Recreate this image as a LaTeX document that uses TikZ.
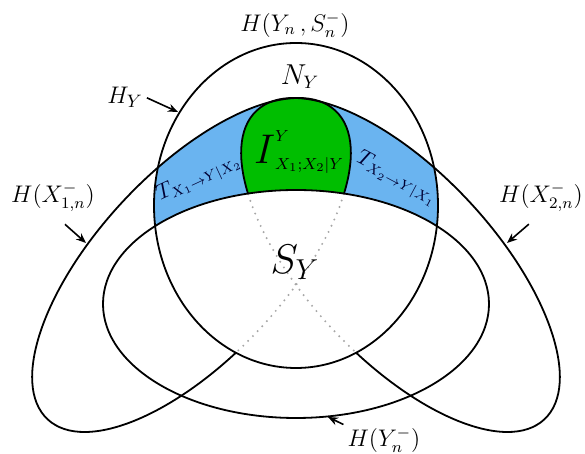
\documentclass[tikz,border=0pt]{standalone}
\usepackage{amsmath}
\usepackage{amssymb}
\usepackage{tikz}
\usetikzlibrary{arrows.meta}
\definecolor{bandblue}{RGB}{106,180,240}
\definecolor{capgreen}{RGB}{0,190,0}
% the four entropy sets
\newcommand{\setY}{(296,248.5) ellipse [x radius=142, y radius=162.5]}
\newcommand{\setYminus}{(296,150) ellipse [x radius=193, y radius=114]}
\newcommand{\setXone}{(191.5,189) ellipse [x radius=211, y radius=93.5, rotate=47]}
\newcommand{\setXtwo}{(400.5,189) ellipse [x radius=211, y radius=93.5, rotate=-47]}

\begin{document}
\begin{tikzpicture}[x=0.5pt, y=0.5pt,
		outline/.style={line width=0.9pt},
		hidden/.style={line width=1.1pt, gray!70, line cap=round, dash pattern=on 0pt off 3.4pt},
		pointer/.style={-{Stealth[length=5pt,width=4pt]}, line width=0.8pt},
		lbl/.style={inner sep=1pt, font=\fontsize{12}{14}\selectfont},
		bandlbl/.style={inner sep=0pt, font=\fontsize{10.5}{12}\selectfont, text=black!80!blue}]
		
		\useasboundingbox (0,0) rectangle (585,454);
		
		% Shaded regions inside H_Y
		\begin{scope}
			\clip \setY;
			\fill[bandblue] \setXone;
			\fill[bandblue] \setXtwo;
			\clip \setXone;
			\fill[capgreen] \setXtwo;
		\end{scope}
		\fill[white] \setYminus;
		
		% Tilted sets
		\draw[outline] \setXone;
		\draw[outline] \setXtwo;
		
		% Hidden parts
		\begin{scope}
			\clip \setY;
			\clip \setYminus;
			\draw[white, line width=2.5pt] \setXone;
			\draw[white, line width=2.5pt] \setXtwo;
			\draw[hidden] \setXone;
			\draw[hidden] \setXtwo;
		\end{scope}
		
		% H_Y and H(Y_n^-)
		\draw[outline] \setY;
		\draw[outline] \setYminus;
		
		% Region labels
		\node[inner sep=1pt, font=\fontsize{13.5}{15}\selectfont] (ny) at (300,377) {$N_Y$};
		\node[inner sep=1pt, font=\fontsize{20}{22}\selectfont] (sy) at (295,192) {$S_Y$};
		\node[inner sep=0pt, font=\fontsize{12}{14}\selectfont] (ixy) at (299,302)
			{$\mbox{\fontsize{20}{22}\selectfont$I$}^{Y}_{X_1;X_2|Y}$};
		\node[bandlbl, rotate=25] (tone) at (199,276) {$T_{X_1\to Y|X_2}$};
		\node[bandlbl, rotate=-28] (ttwo) at (397,275) {$T_{X_2\to Y|X_1}$};
		
		% Set labels
		\node[lbl] (hys) at (295,429) {$H(Y_n\,,S_n^{-})$};
		\node[lbl, font=\fontsize{13}{15}\selectfont] (hy) at (125,357) {$H_Y$};
		\node[lbl] (hxone) at (53,257) {$H(X_{1,n}^{-})$};
		\node[lbl] (hxtwo) at (541,257) {$H(X_{2,n}^{-})$};
		\node[lbl] (hyn) at (384,14) {$H(Y_n^{-})$};
		
		\coordinate (ytip) at (178,342);
		\coordinate (xonetip) at (86,211);
		\coordinate (xtwotip) at (507,211);
		\coordinate (yntip) at (328,37);
		
		\draw[pointer, shorten <=1pt] (hy.east) -- (ytip);
		\draw[pointer, shorten <=8pt] (hxone.south) -- (xonetip);
		\draw[pointer, shorten <=8pt] (hxtwo.south) -- (xtwotip);
		\draw[pointer, shorten <=1pt] (hyn.north west) -- (yntip);
		
	\end{tikzpicture}
\end{document}
